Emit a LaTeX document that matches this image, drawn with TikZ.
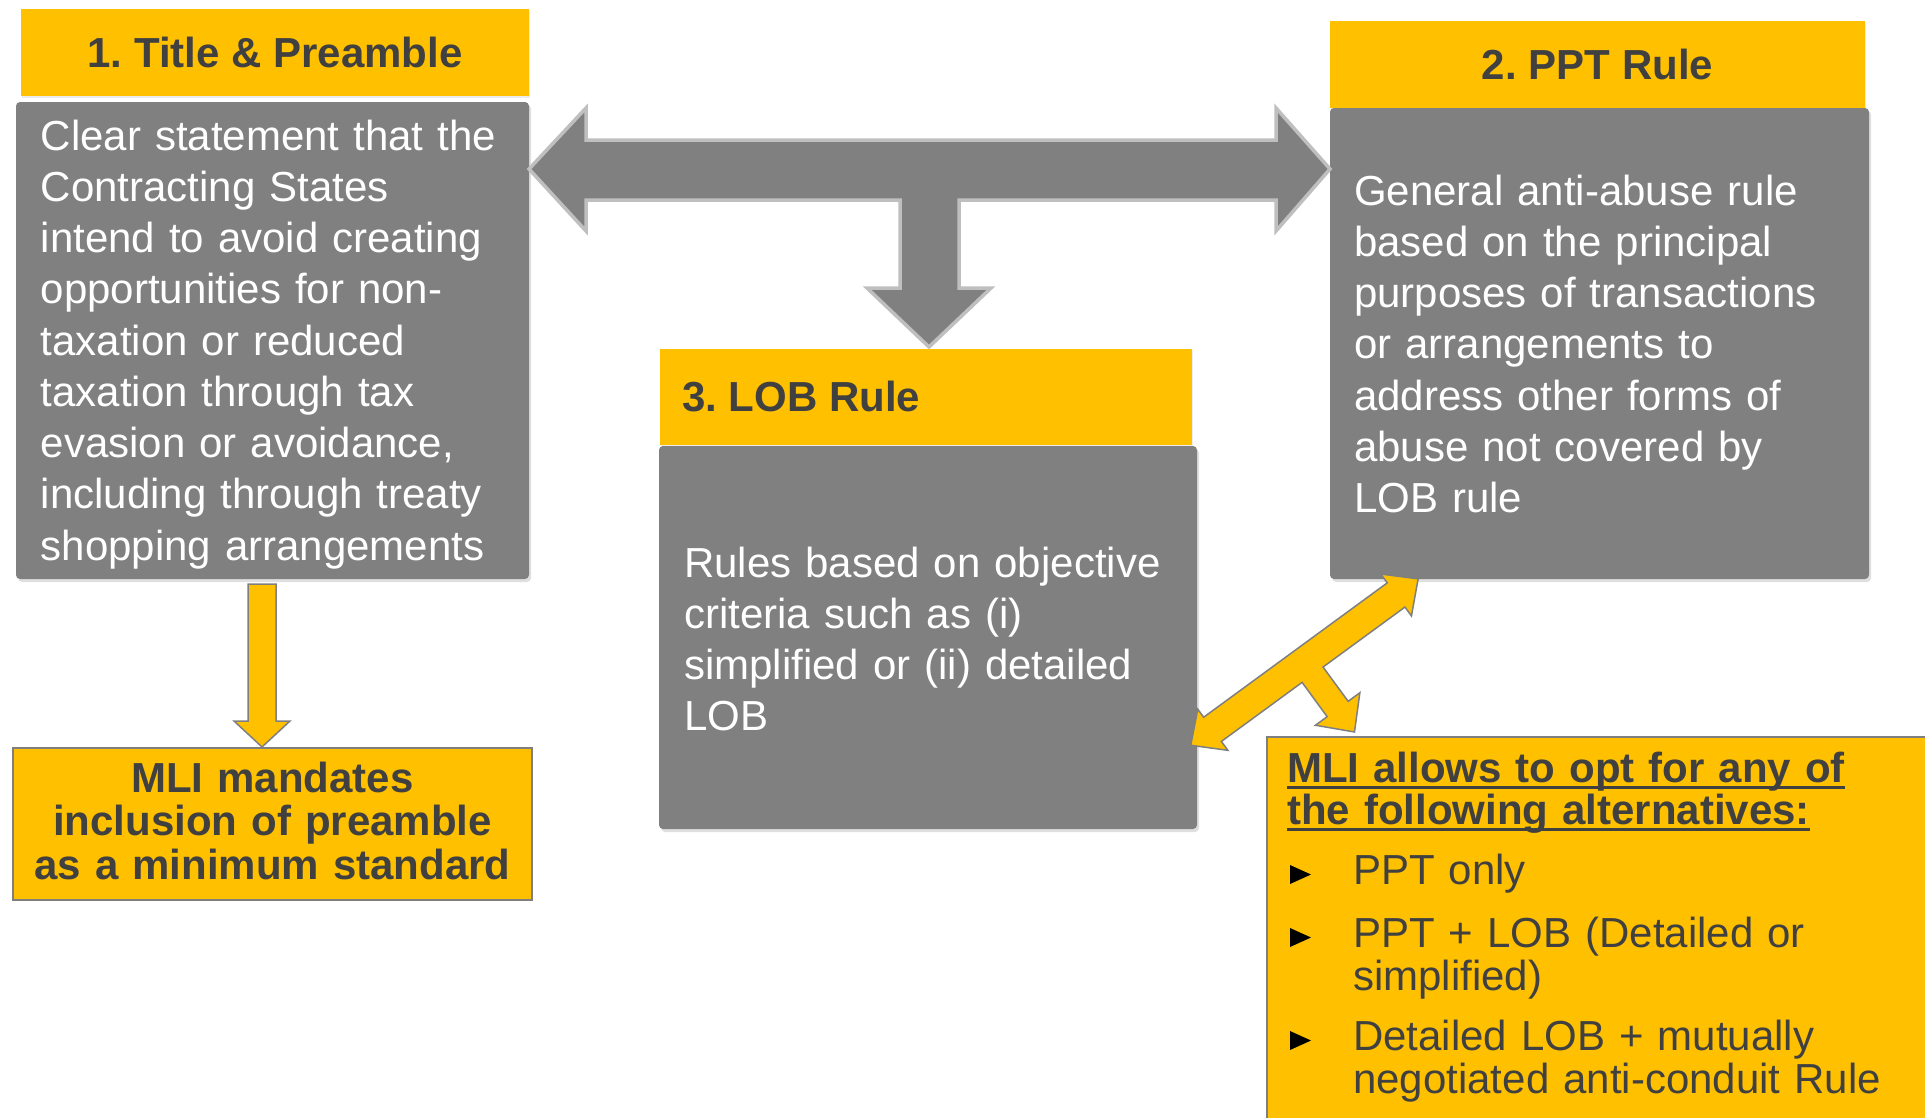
\documentclass[tikz,border=0pt]{standalone}
\usepackage{fontspec}
\setmainfont{Liberation Sans}
\usetikzlibrary{shadows}
\definecolor{ygold}{HTML}{FFC000}
\definecolor{boxgray}{HTML}{808080}
\definecolor{darktxt}{HTML}{404040}
\definecolor{arrowedge}{HTML}{BFBFBF}
\definecolor{edgegray}{HTML}{7F7F7F}
\newcommand\ulline[1]{\leavevmode\sbox0{#1}\rlap{\rule[-6.5pt]{\wd0}{2.5pt}}\usebox0}
\frenchspacing
\begin{document}
\begin{tikzpicture}[x=1pt,y=-1pt,
  graybox/.style={fill=boxgray, draw=none, rounded corners=4pt, inner sep=0pt,
    drop shadow={shadow xshift=2pt, shadow yshift=-3pt, opacity=0.25}},
  titlebox/.style={fill=ygold, draw=none, inner sep=0pt, text=darktxt,
    font=\frenchspacing\bfseries\fontsize{42}{51}\selectfont,
    drop shadow={shadow xshift=1pt, shadow yshift=-2pt, opacity=0.15}},
  ybox/.style={fill=ygold, draw=edgegray, line width=2pt, inner sep=0pt},
  bodytext/.style={text=white, inner sep=0pt, text width=620pt, align=left,
    font=\fontsize{42}{51.25}\selectfont},
  boldtext/.style={text=darktxt, inner sep=0pt, font=\bfseries\fontsize{42}{43.5}\selectfont},
  bullettext/.style={text=darktxt, inner sep=0pt, text width=560pt, align=left,
    font=\fontsize{42}{43}\selectfont},
  blockgray/.style={fill=boxgray, draw=arrowedge, line width=3.5pt, line join=miter},
  blockyellow/.style={fill=ygold, draw=edgegray, line width=1.5pt, line join=miter}
]
\useasboundingbox (0,0) rectangle (1925,1117);

% gray content boxes
\node[graybox, minimum width=513, minimum height=477] (b1) at (272.5,340.5) {};
\node[graybox, minimum width=539, minimum height=471] (b2) at (1599.5,343.5) {};
\node[graybox, minimum width=538, minimum height=383] (b3) at (928,637.5) {};

% title boxes
\node[titlebox, minimum width=508, minimum height=87] (t1) at (275,52.5) {1. Title \& Preamble};
\node[titlebox, minimum width=535, minimum height=87] (t2) at (1597.5,64.5) {2. PPT Rule};
\node[titlebox, minimum width=532, minimum height=96] (t3) at (926,397) {};
\node[text=darktxt, inner sep=0pt, font=\frenchspacing\bfseries\fontsize{42}{51}\selectfont, anchor=base west] (t3t) at (682,411) {3. LOB Rule};

% body texts
\node[bodytext, anchor=base west] (b1t) at (40.5,150) {Clear statement that the\\
Contracting States\\
intend to avoid creating\\
opportunities for non-\\
taxation or reduced\\
taxation through tax\\
evasion or avoidance,\\
including through treaty\\
shopping arrangements};

\node[bodytext, anchor=base west] (b2t) at (1354,205) {General anti-abuse rule\\
based on the principal\\
purposes of transactions\\
or arrangements to\\
address other forms of\\
abuse not covered by\\
LOB rule};

\node[bodytext, anchor=base west] (b3t) at (684,577) {Rules based on objective\\
criteria such as (i)\\
simplified or (ii) detailed\\
LOB};

% yellow boxes
\node[ybox, minimum width=519, minimum height=152] (m1) at (272.5,824) {};
\node[boldtext, align=center, text width=519pt, anchor=base] (m1t) at (272.5,792) {MLI mandates\\
inclusion of preamble\\
as a minimum standard};

\node[ybox, minimum width=668, minimum height=393] (m2) at (1601,933.5) {};
\node[boldtext, font=\bfseries\fontsize{42}{42}\selectfont, text width=620pt, align=left, anchor=base west] (m2h) at (1287,782)
  {\ulline{MLI allows to opt for any of}\\ \ulline{the following alternatives:}};
\node[bullettext, anchor=base west] (p1) at (1353,884) {PPT only};
\node[bullettext, anchor=base west] (p2) at (1353,947) {PPT + LOB (Detailed or\\ simplified)};
\node[bullettext, anchor=base west] (p3) at (1353,1050) {Detailed LOB + mutually\\ negotiated anti-conduit Rule};
\foreach \p in {p1,p2,p3}
  \fill[black] (\p.base west) ++(-63,0) -- ++(0,-19) -- ++(21,9.5) -- cycle;

% gray T block arrow between the three rules
\draw[blockgray] (529,169) -- (586,108) -- (586,140) -- (1276,140) -- (1276,108)
  -- (1330,169) -- (1276,231) -- (1276,200) -- (959,200) -- (959,288) -- (991,288)
  -- (929,347) -- (867,288) -- (900,288) -- (900,200) -- (586,200) -- (586,231) -- cycle;

% yellow down arrow from preamble box to MLI mandates
\draw[blockyellow] (248,584) -- (276,584) -- (276,721) -- (290,721) -- (262,747)
  -- (234,721) -- (248,721) -- cycle;

% yellow diagonal branched arrow
\begin{scope}[shift={(1304.5,662)}, rotate=36.2]
\draw[blockyellow] (140.8,0) -- (113.5,26) -- (113.5,15) -- (12,15) -- (12,57.5)
  -- (26.5,57.5) -- (-1,86) -- (-28.5,57.5) -- (-14,57.5) -- (-14,15) -- (-114,15)
  -- (-114,26) -- (-141,0) -- (-114,-25) -- (-114,-15) -- (113.5,-15) -- (113.5,-26) -- cycle;
\end{scope}
\end{tikzpicture}
\end{document}
